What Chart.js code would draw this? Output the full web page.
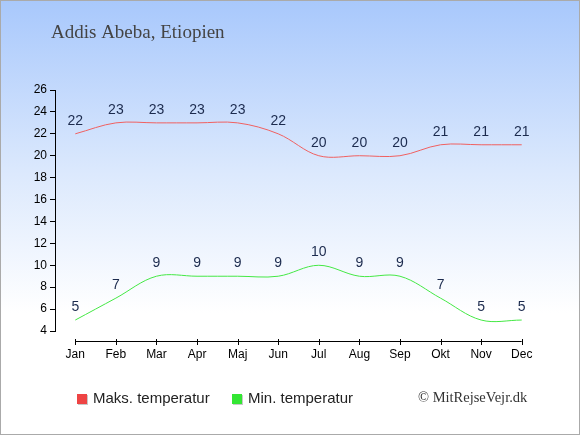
<!DOCTYPE html>
<html>
<head>
<meta charset="utf-8">
<script src="https://cdn.jsdelivr.net/npm/chart.js"></script>
<style>
  html, body { margin: 0; padding: 0; }
  #wrap {
    position: relative; width: 580px; height: 435px;
    background: linear-gradient(to bottom, #a8c8fc 0%, #dce9fd 40%, #ffffff 72%, #ffffff 100%);
  }
  #frame {
    position: absolute; left: 0; top: 0; width: 580px; height: 435px;
    box-sizing: border-box; border: 1px solid #aaaaaa; pointer-events: none;
  }
  canvas { position: absolute; left: 0; top: 0; }
</style>
</head>
<body>
<div id="wrap">
  <canvas id="chart" width="580" height="435"></canvas>
  <div id="frame"></div>
</div>
<script>
const months = ['Jan', 'Feb', 'Mar', 'Apr', 'Maj', 'Jun', 'Jul', 'Aug', 'Sep', 'Okt', 'Nov', 'Dec'];
const maxTemp = [22, 23, 23, 23, 23, 22, 20, 20, 20, 21, 21, 21];
const minTemp = [5, 7, 9, 9, 9, 9, 10, 9, 9, 7, 5, 5];
const seriesNames = ['Maks. temperatur', 'Min. temperatur'];
const titleText = 'Addis Abeba, Etiopien';
const creditText = '\u00A9 MitRejseVejr.dk';

// labels above each point
const valueLabels = {
    id: 'valueLabels',
    afterDatasetsDraw(chart) {
        const ctx = chart.ctx;
        ctx.save();
        ctx.font = '14px Arial, "Liberation Sans", sans-serif';
        ctx.fillStyle = '#1c2b4e';
        ctx.textAlign = 'center';
        ctx.textBaseline = 'middle';
        chart.data.datasets.forEach((ds, di) => {
            chart.getDatasetMeta(di).data.forEach((pt, i) => {
                ctx.fillText(String(ds.data[i]), pt.x, pt.y - 13);
            });
        });
        ctx.restore();
    }
};

// x axis line only spanning the categories, a bit below the plot
const decorations = {
    id: 'decorations',
    afterDraw(chart) {
        const ctx = chart.ctx;
        const xs = chart.scales.x;
        const y = chart.chartArea.bottom + 10;
        const x0 = xs.getPixelForValue(0);
        const x1 = xs.getPixelForValue(months.length - 1);
        ctx.save();
        ctx.strokeStyle = '#000';
        ctx.lineWidth = 1;
        ctx.beginPath();
        ctx.moveTo(x0, y + 0.5);
        ctx.lineTo(x1, y + 0.5);
        for (let i = 0; i < months.length; i++) {
            const x = Math.round(xs.getPixelForValue(i)) + 0.5;
            ctx.moveTo(x, y - 2);
            ctx.lineTo(x, y + 4);
        }
        ctx.stroke();

        // title
        ctx.font = '19px "Liberation Serif", "Times New Roman", serif';
        ctx.fillStyle = '#444444';
        ctx.textAlign = 'left';
        ctx.textBaseline = 'alphabetic';
        ctx.fillText(titleText, 51, 38);

        // legend
        const items = [
            { x: 77, color: chart.data.datasets[0].legendColor, text: seriesNames[0] },
            { x: 232, color: chart.data.datasets[1].legendColor, text: seriesNames[1] }
        ];
        ctx.textBaseline = 'middle';
        items.forEach(it => {
            ctx.fillStyle = '#c8c8c8';
            ctx.fillRect(it.x + 1, 395, 10, 10);
            ctx.fillStyle = it.color;
            ctx.fillRect(it.x, 394, 10, 10);
            ctx.fillStyle = '#222222';
            ctx.font = '15px Arial, "Liberation Sans", sans-serif';
            ctx.fillText(it.text, it.x + 16, 399);
        });

        // credit
        ctx.font = '14.5px "Liberation Serif", "Times New Roman", serif';
        ctx.fillStyle = '#333333';
        ctx.fillText(creditText, 418, 398);
        ctx.restore();
    }
};

new Chart(document.getElementById('chart'), {
    type: 'line',
    data: {
        labels: months,
        datasets: [
            {
                label: seriesNames[0],
                data: maxTemp,
                borderColor: '#f06060',
                legendColor: '#ee4444',
                borderWidth: 1,
                pointRadius: 0,
                tension: 0.35,
                fill: false
            },
            {
                label: seriesNames[1],
                data: minTemp,
                borderColor: '#44e844',
                legendColor: '#33e633',
                borderWidth: 1,
                pointRadius: 0,
                tension: 0.35,
                fill: false
            }
        ]
    },
    options: {
        responsive: false,
        animation: false,
        devicePixelRatio: 1,
        layout: { padding: { left: 0, top: 90, right: 38, bottom: 0 } },
        plugins: {
            legend: { display: false },
            title: { display: false },
            tooltip: { enabled: false }
        },
        scales: {
            x: {
                offset: true,
                grid: { display: false, drawTicks: false },
                border: { display: false },
                ticks: {
                    padding: 16,
                    color: '#000',
                    font: { family: 'Arial, "Liberation Sans", sans-serif', size: 12 },
                    maxRotation: 0,
                    autoSkip: false
                },
                afterFit(scale) { scale.height = 104; }
            },
            y: {
                min: 4,
                max: 26,
                grid: { display: true, drawOnChartArea: false, drawTicks: true, tickLength: 5, color: '#000' },
                border: { display: true, color: '#000', width: 1 },
                ticks: {
                    stepSize: 2,
                    padding: 3,
                    color: '#000',
                    font: { family: 'Arial, "Liberation Sans", sans-serif', size: 12 }
                },
                afterFit(scale) { scale.width = 55; }
            }
        }
    },
    plugins: [valueLabels, decorations]
});
</script>
</body>
</html>
